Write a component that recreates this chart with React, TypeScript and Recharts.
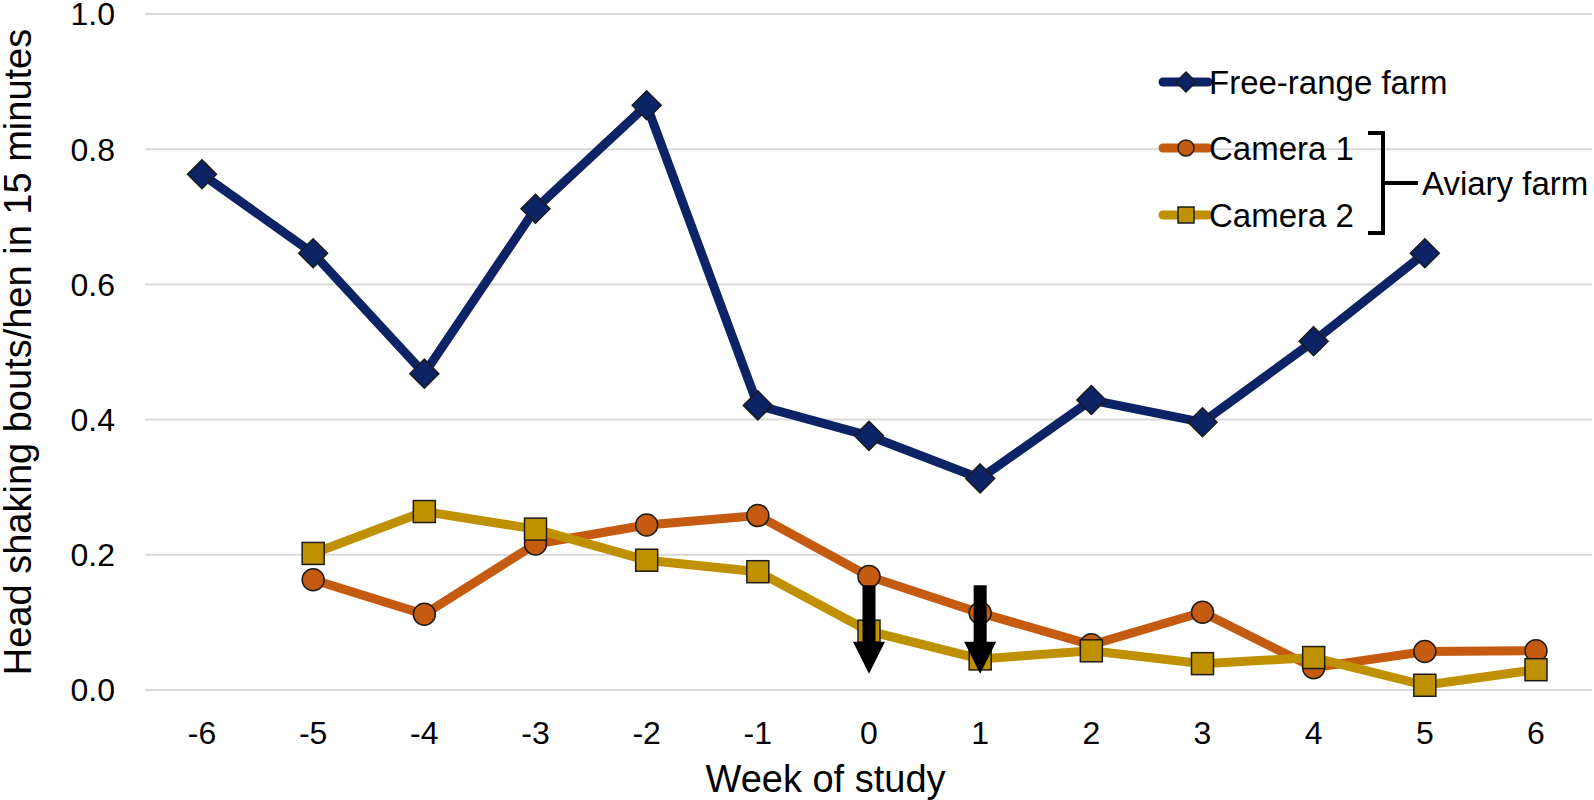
import { LineChart, Line, XAxis, YAxis, CartesianGrid, ReferenceLine, Label } from 'recharts';

const weeks = [-6, -5, -4, -3, -2, -1, 0, 1, 2, 3, 4, 5, 6];
const freeRange = [0.763, 0.646, 0.468, 0.712, 0.865, 0.421, 0.376, 0.313, 0.429, 0.396, 0.516, 0.646, null];
const camera1 = [null, 0.163, 0.112, 0.216, 0.244, 0.258, 0.168, 0.114, 0.067, 0.115, 0.033, 0.057, 0.058];
const camera2 = [null, 0.202, 0.264, 0.238, 0.192, 0.175, 0.087, 0.046, 0.058, 0.039, 0.048, 0.007, 0.03];
const yTicks = [0, 0.2, 0.4, 0.6, 0.8, 1.0];
// weeks where the arrows point down (top and tip of each arrow)
const arrowWeeks = [0, 1];
const arrowTop = 0.155;
const arrowTip = 0.024;

const data = weeks.map((week, i) => ({
  week,
  freeRange: freeRange[i],
  camera1: camera1[i],
  camera2: camera2[i],
}));

const NAVY = '#0c2366';
const ORANGE = '#c55a11';
const GOLD = '#bf9000';
const OUTLINE = '#1c1c1c';
const FONT = '"Liberation Sans", Arial, sans-serif';

const Diamond = ({ cx, cy, size = 14.5 }: any) => (
  <polygon
    points={`${cx},${cy - size} ${cx + size},${cy} ${cx},${cy + size} ${cx - size},${cy}`}
    fill={NAVY}
    stroke={OUTLINE}
    strokeWidth={1.5}
  />
);

const Circle = ({ cx, cy, r = 11 }: any) => (
  <circle cx={cx} cy={cy} r={r} fill={ORANGE} stroke={OUTLINE} strokeWidth={1.5} />
);

const Square = ({ cx, cy, half = 11 }: any) => (
  <rect x={cx - half} y={cy - half} width={half * 2} height={half * 2} fill={GOLD} stroke={OUTLINE} strokeWidth={1.5} />
);

const dotFor = (Shape: any) => (props: any) => {
  const { cx, cy, key, payload, dataKey } = props;
  if (payload[dataKey] == null || cx == null || cy == null) return <g key={key} />;
  return <Shape key={key} cx={cx} cy={cy} />;
};

const Arrow = (props: any) => {
  const { x1, y1, y2 } = props;
  const top = Math.min(y1, y2);
  const tip = Math.max(y1, y2);
  const headH = 32;
  const headW = 16;
  const shaft = 6.5;
  const neck = tip - headH;
  return (
    <polygon
      points={`${x1 - shaft},${top} ${x1 + shaft},${top} ${x1 + shaft},${neck} ${x1 + headW},${neck} ${x1},${tip} ${x1 - headW},${neck} ${x1 - shaft},${neck}`}
      fill="#000"
    />
  );
};

const legendRows = [
  { label: 'Free-range farm', color: NAVY, Shape: Diamond, y: 82 },
  { label: 'Camera 1', color: ORANGE, Shape: Circle, y: 148 },
  { label: 'Camera 2', color: GOLD, Shape: Square, y: 215 },
];

function ChartLegend() {
  return (
    <svg width={1594} height={800} style={{ position: 'absolute', left: 0, top: 0, pointerEvents: 'none', fontFamily: FONT }}>
      {legendRows.map((row) => (
        <g key={row.label}>
          <line x1={1163} x2={1208} y1={row.y} y2={row.y} stroke={row.color} strokeWidth={9} strokeLinecap="round" />
          {row.Shape === Diamond && <Diamond cx={1186} cy={row.y} size={10} />}
          {row.Shape === Circle && <Circle cx={1186} cy={row.y} r={8} />}
          {row.Shape === Square && <Square cx={1186} cy={row.y} half={8} />}
          <text x={1209} y={row.y} dy="0.36em" fontSize={33} fill="#000">
            {row.label}
          </text>
        </g>
      ))}
      <path d="M1368,133 H1383 V233 H1368 M1383,183 H1418" stroke="#000" strokeWidth={4} fill="none" />
      <text x={1422} y={183} dy="0.36em" fontSize={33} fill="#000">
        Aviary farm
      </text>
    </svg>
  );
}

export default function App() {
  return (
    <div style={{ position: 'absolute', left: 0, top: 0, width: 1594, height: 800, background: '#fff', fontFamily: FONT }}>
      <LineChart width={1594} height={800} data={data} margin={{ top: 14, right: 2, left: 0, bottom: 0 }}>
        <CartesianGrid vertical={false} stroke="#d9d9d9" strokeWidth={2} />
        <XAxis
          dataKey="week"
          type="category"
          axisLine={false}
          tickLine={false}
          tickSize={0}
          tickMargin={31}
          height={110}
          padding={{ left: 57, right: 56 }}
          tick={{ fontSize: 32, fill: '#000', fontFamily: FONT }}
        >
          <Label
            content={({ viewBox }: any) => (
              <text x={viewBox.x + viewBox.width / 2 - 43} y={792} textAnchor="middle" fontSize={38} fill="#000" fontFamily={FONT}>
                Week of study
              </text>
            )}
          />
        </XAxis>
        <YAxis
          domain={[0, 1]}
          ticks={yTicks}
          interval={0}
          width={145}
          axisLine={false}
          tickLine={false}
          tickSize={0}
          tickMargin={30}
          tickFormatter={(v: number) => v.toFixed(1)}
          tick={{ fontSize: 32, fill: '#000', fontFamily: FONT }}
        >
          <Label
            content={({ viewBox }: any) => {
              const cy = viewBox.y + viewBox.height / 2;
              return (
                <text
                  x={31}
                  y={cy}
                  transform={`rotate(-90, 31, ${cy})`}
                  textAnchor="middle"
                  fontSize={38}
                  fill="#000"
                  fontFamily={FONT}
                >
                  Head shaking bouts/hen in 15 minutes
                </text>
              );
            }}
          />
        </YAxis>
        <Line dataKey="freeRange" stroke={NAVY} strokeWidth={9} dot={dotFor(Diamond)} activeDot={false} isAnimationActive={false} />
        <Line dataKey="camera1" stroke={ORANGE} strokeWidth={9} dot={dotFor(Circle)} activeDot={false} isAnimationActive={false} />
        <Line dataKey="camera2" stroke={GOLD} strokeWidth={9} dot={dotFor(Square)} activeDot={false} isAnimationActive={false} />
        {arrowWeeks.map((w) => (
          <ReferenceLine
            key={w}
            segment={[{ x: w, y: arrowTop }, { x: w, y: arrowTip }]}
            shape={Arrow}
            ifOverflow="visible"
            isFront
            zIndex={2000}
          />
        ))}
      </LineChart>
      <ChartLegend />
    </div>
  );
}
